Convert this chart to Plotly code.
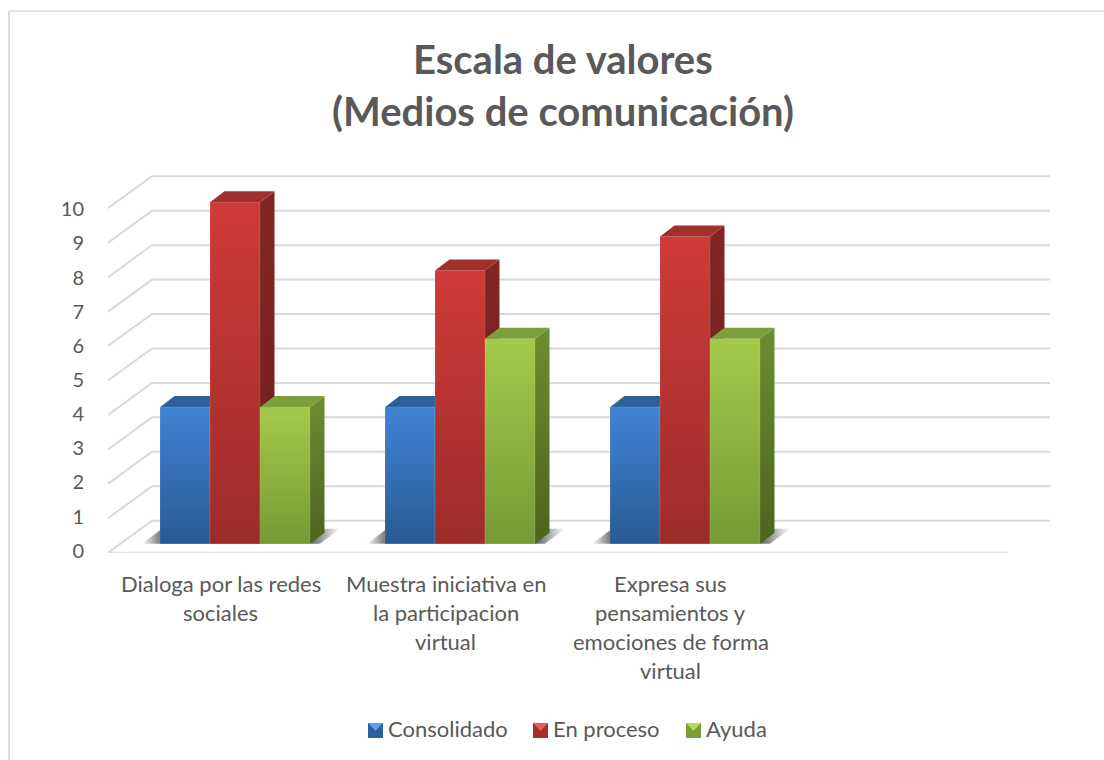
import plotly.graph_objects as go

W, H = 1104, 760
# the page comes out 10px shorter than the layout height asks for
LAYOUT_H = H + 10

title_lines = ["Escala de valores", "(Medios de comunicación)"]
categories = [
    ["Dialoga por las redes", "sociales"],
    ["Muestra iniciativa en", "la participacion", "virtual"],
    ["Expresa sus", "pensamientos y", "emociones de forma", "virtual"],
    [""],
]
y_ticks = [0, 1, 2, 3, 4, 5, 6, 7, 8, 9, 10]
series_names = ["Consolidado", "En proceso", "Ayuda"]
consolidado = [4, 4, 4]
en_proceso = [10, 8, 9]
ayuda = [4, 6, 6]
series_values = [consolidado, en_proceso, ayuda]

# front colour top/bottom, side top/bottom, top face
front_top = ["#3f83d4", "#cf3b38", "#a2cb4b"]
front_bot = ["#2a5a94", "#9c2c29", "#769a34"]
side_top = ["#24507f", "#832623", "#6d8d31"]
side_bot = ["#1c3f66", "#6d1f1d", "#4b641f"]
top_face = ["#2d6099", "#a0302d", "#7b9f39"]
swatch_light = ["#5c9fec", "#e2605c", "#b4dc5e"]
swatch_base = ["#2c5f9e", "#a32e2b", "#7a9e37"]
swatch_left = [368, 533, 686]

FONT = "Lato, Carlito, Calibri, sans-serif"
GREY = "#595959"
GRID = "#d9d9d9"

# plot box in page pixels, the axes below are linear over it
LEFT, RIGHT, TOP, BOTTOM = 108, 1060, 165, 552
PX_X = 225.0   # pixels per category
PX_Y = 34.1    # pixels per value unit
X0 = -0.5
Y_ZERO_PX = 550

BAR_W = 50 / PX_X
DEPTH_X = 14.5 / PX_X
DEPTH_Y = 11 / PX_Y
BASE = 7 / PX_Y
SHIFT = 14.5 / PX_X
WALL_X = 44 / PX_X
WALL_Y = 32 / PX_Y
FRONT_DROP = 2 / PX_Y
GRID_STRETCH = 34.4 / PX_Y  # walls sit a bit wider than the bars' scale


def xpaper(p):
    return p / W


def ypaper(p):
    return 1 - p / H


fig = go.Figure()

# walls: gridlines along the back and diagonals down the side wall
x_end = X0 + (1050 - LEFT) / PX_X
grid_x, grid_y = [], []
for t in y_ticks:
    front = t * GRID_STRETCH - FRONT_DROP
    grid_x += [X0, X0 + WALL_X, x_end, None]
    grid_y += [front, front + WALL_Y, front + WALL_Y, None]
grid_x += [X0, X0 + 4, None]
grid_y += [-FRONT_DROP, -FRONT_DROP, None]
fig.add_trace(go.Scatter(x=grid_x, y=grid_y, mode="lines", line=dict(color=GRID, width=2),
                         showlegend=False, hoverinfo="skip", zorder=0))

# floor shadows
for i in range(3):
    xa = i + SHIFT - 1.5 * BAR_W - 18 / PX_X
    xb = i + SHIFT + 1.5 * BAR_W + 10 / PX_X
    d = 20 / PX_X
    yb = BASE
    yt = BASE + 15 / PX_Y
    fig.add_trace(go.Scatter(
        x=[xa, xb, xb + d, xa + d, xa], y=[yb, yb, yt, yt, yb], mode="lines", fill="toself",
        line=dict(width=0), showlegend=False, hoverinfo="skip", zorder=1,
        fillgradient=dict(type="horizontal",
                          colorscale=[[0, "rgba(100,100,100,0)"], [0.1, "rgba(100,100,100,0.95)"],
                                      [0.86, "rgba(100,100,100,0.95)"], [1, "rgba(100,100,100,0)"]])))

for s, (name, vals) in enumerate(zip(series_names, series_values)):
    offset = (s - 1.5) * BAR_W
    layer = 2 + s * 3
    cx = [i + SHIFT for i in range(len(vals))]

    for x, v in zip(cx, vals):
        x0 = x + offset
        x1 = x0 + BAR_W
        top = BASE + v
        # side face
        fig.add_trace(go.Scatter(
            x=[x1, x1 + DEPTH_X, x1 + DEPTH_X, x1, x1],
            y=[BASE, BASE + DEPTH_Y, top + DEPTH_Y, top, BASE],
            mode="lines", fill="toself", line=dict(width=0), showlegend=False, hoverinfo="skip", zorder=layer,
            fillgradient=dict(type="vertical", colorscale=[[0, side_bot[s]], [1, side_top[s]]])))
        # top face
        fig.add_trace(go.Scatter(
            x=[x0, x1, x1 + DEPTH_X, x0 + DEPTH_X, x0],
            y=[top, top, top + DEPTH_Y, top + DEPTH_Y, top],
            mode="lines", fill="toself", fillcolor=top_face[s], line=dict(width=0),
            showlegend=False, hoverinfo="skip", zorder=layer))

    fig.add_trace(go.Bar(x=cx, y=vals, base=BASE, width=BAR_W, offset=offset, name=name,
                         marker=dict(color=front_bot[s], line=dict(width=0)), zorder=layer + 1))

    # gradient over the front of each bar, with a faint bevel edge
    for x, v in zip(cx, vals):
        x0 = x + offset
        x1 = x0 + BAR_W
        top = BASE + v
        fig.add_trace(go.Scatter(
            x=[x0, x1, x1, x0, x0], y=[BASE, BASE, top, top, BASE],
            mode="lines", fill="toself", line=dict(width=1, color="rgba(255,255,255,0.12)"),
            showlegend=False, hoverinfo="skip", zorder=layer + 2,
            fillgradient=dict(type="vertical", colorscale=[[0, front_bot[s]], [1, front_top[s]]])))

annotations = []
# category labels, one annotation per line for the wider line spacing
for i, lines in enumerate(categories):
    for n, line in enumerate(lines):
        if line:
            annotations.append(dict(text=line, x=i, xref="x", y=ypaper(583 + 29 * n), yref="paper",
                                    xanchor="center", yanchor="middle", showarrow=False,
                                    font=dict(family=FONT, size=22, color=GREY)))
for line, cy in zip(title_lines, [59, 111]):
    annotations.append(dict(text="<b>" + line + "</b>", x=563 / W, xref="paper", y=ypaper(cy), yref="paper",
                            xanchor="center", yanchor="middle", showarrow=False,
                            font=dict(family=FONT, size=40, color=GREY)))

shapes = [
    dict(type="line", xref="paper", yref="paper", x0=xpaper(9), x1=1, y0=ypaper(11), y1=ypaper(11),
         line=dict(color="#dcdcdc", width=1.5), layer="below"),
    dict(type="line", xref="paper", yref="paper", x0=xpaper(9), x1=xpaper(9), y0=ypaper(11), y1=0,
         line=dict(color="#dcdcdc", width=2), layer="below"),
]

# legend: glossy swatches and their names
for name, left, base, light in zip(series_names, swatch_left, swatch_base, swatch_light):
    shapes.append(dict(type="rect", xref="paper", yref="paper", x0=xpaper(left), x1=xpaper(left + 15),
                       y0=ypaper(737), y1=ypaper(722), fillcolor=base, line=dict(width=0)))
    xl, xm, xr = xpaper(left), xpaper(left + 7.5), xpaper(left + 15)
    yt, ym = ypaper(722), ypaper(730)
    shapes.append(dict(type="path", xref="paper", yref="paper", path=f"M{xl},{yt} L{xr},{yt} L{xm},{ym} Z",
                       fillcolor=light, line=dict(width=0)))
    annotations.append(dict(text=name, x=xpaper(left + 18), xref="paper", y=ypaper(728), yref="paper",
                            xanchor="left", yanchor="middle", showarrow=False,
                            font=dict(family=FONT, size=22, color=GREY)))

fig.update_layout(
    width=W, height=LAYOUT_H, autosize=False,
    margin=dict(l=0, r=0, t=0, b=0),
    paper_bgcolor="white", plot_bgcolor="rgba(0,0,0,0)",
    barmode="overlay", showlegend=False,
    font=dict(family=FONT, color=GREY),
    xaxis=dict(domain=[xpaper(LEFT), xpaper(RIGHT)], range=[X0, X0 + (RIGHT - LEFT) / PX_X],
               showgrid=False, zeroline=False, showline=False, showticklabels=False, ticks=""),
    yaxis=dict(domain=[ypaper(BOTTOM), ypaper(TOP)],
               range=[(Y_ZERO_PX - BOTTOM) / PX_Y, (Y_ZERO_PX - TOP) / PX_Y],
               tickmode="array", tickvals=y_ticks, ticktext=[str(t) for t in y_ticks],
               showgrid=False, zeroline=False, showline=False, ticks="", ticklabelstandoff=23,
               tickfont=dict(family=FONT, size=20, color=GREY)),
    annotations=annotations,
    shapes=shapes,
)

fig.write_html("out.html", config=dict(displayModeBar=False, responsive=False),
               post_script="document.body.style.margin='0';")
